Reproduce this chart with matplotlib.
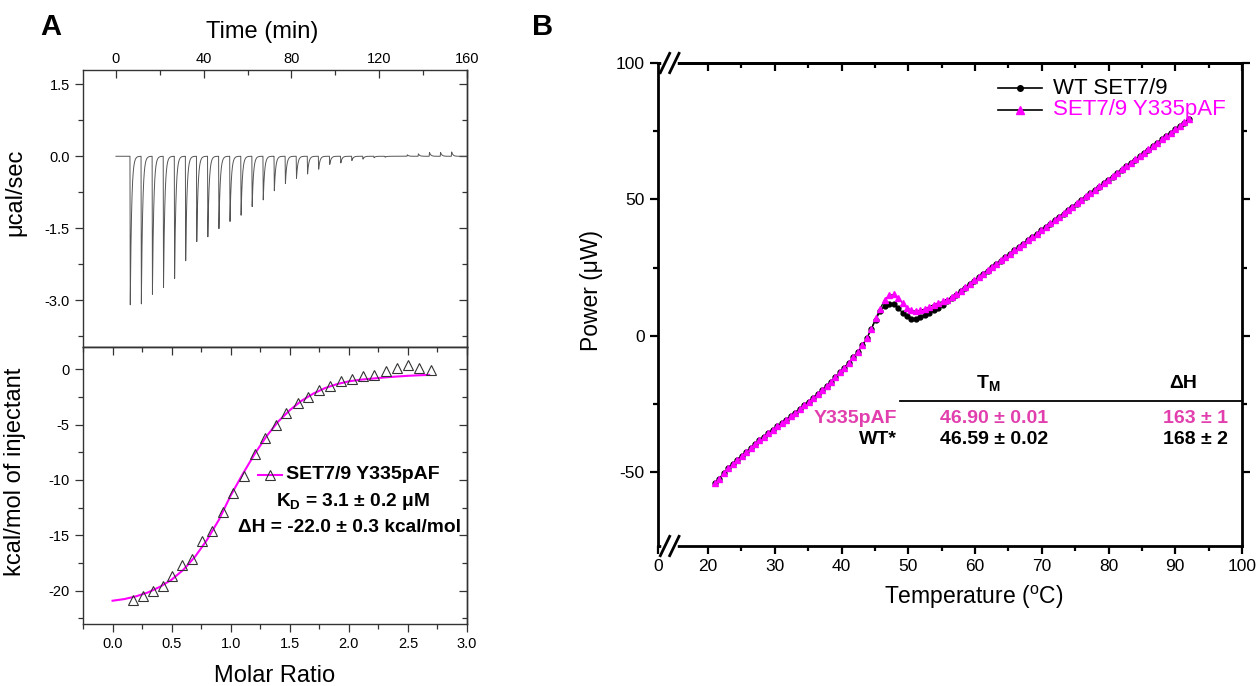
import numpy as np
import matplotlib
matplotlib.use('Agg')
import matplotlib.pyplot as plt
from matplotlib.ticker import MultipleLocator, FixedLocator

plt.rcParams['font.family'] = ['Liberation Sans', 'DejaVu Sans']
plt.rcParams['mathtext.fontset'] = 'custom'
plt.rcParams['mathtext.rm'] = 'Liberation Sans'
plt.rcParams['mathtext.bf'] = 'Liberation Sans:bold'
plt.rcParams['mathtext.it'] = 'Liberation Sans:italic'
plt.rcParams['axes.unicode_minus'] = False

MAGENTA = '#ff00ff'
TABLE_PINK = '#e23fae'

# --- A (top): raw ITC thermogram, one peak per injection ---
inj_first = 6.4      # min
inj_interval = 5.05  # min
peak_heights = [-3.10, -3.08, -2.88, -2.74, -2.55, -2.18, -1.78, -1.68, -1.51, -1.36,
                -1.23, -1.05, -0.91, -0.72, -0.57, -0.46, -0.37, -0.27, -0.17, -0.14,
                -0.09, -0.06, -0.03, -0.02, 0.00, 0.03, 0.05, 0.08, 0.08, 0.09]

# --- A (bottom): integrated heats + fit ---
molar_ratio = [0.169, 0.257, 0.340, 0.426, 0.506, 0.586, 0.671, 0.757, 0.846, 0.931,
               1.020, 1.111, 1.203, 1.294, 1.383, 1.471, 1.566, 1.657, 1.749, 1.843,
               1.934, 2.026, 2.120, 2.214, 2.311, 2.406, 2.500, 2.597, 2.694]
heat_per_inj = [-20.8, -20.45, -20.0, -19.55, -18.7, -17.7, -17.1, -15.55, -14.6, -12.9,
                -11.2, -9.6, -7.65, -6.25, -5.0, -4.0, -3.05, -2.5, -1.85, -1.55,
                -1.1, -0.9, -0.65, -0.5, -0.2, 0.1, 0.4, 0.1, -0.05]
fit_ratio = [0.0, 0.1, 0.2, 0.3, 0.4, 0.5, 0.6, 0.7, 0.8, 0.9, 1.0, 1.1, 1.2, 1.3,
             1.4, 1.5, 1.6, 1.7, 1.8, 1.9, 2.0, 2.1, 2.2, 2.3, 2.4, 2.5, 2.6, 2.68]
fit_heat = [-20.9, -20.75, -20.5, -20.15, -19.65, -19.0, -18.1, -16.9, -15.4, -13.6,
            -11.4, -9.5, -7.7, -6.1, -4.75, -3.7, -2.85, -2.2, -1.7, -1.35,
            -1.1, -0.95, -0.85, -0.75, -0.67, -0.6, -0.55, -0.52]

# --- B: DSC scans (21 C onward, one point every 0.67 C) ---
temp_start = 21.0
temp_step = 0.67
wt_power = [-54.0, -52.3, -50.4, -48.5, -46.8, -45.4, -44.0, -42.6, -41.2, -39.8,
            -38.3, -36.9, -35.6, -34.4, -33.2, -32.0, -30.7, -29.4, -28.1, -26.8,
            -25.4, -24.1, -22.7, -21.3, -19.9, -18.4, -16.8, -15.1, -13.4, -11.6,
            -9.8, -7.9, -5.9, -3.5, -0.9, 2.4, 6.0, 9.0, 11.1, 11.8,
            11.6, 10.2, 8.5, 7.2, 6.3, 6.3, 6.9, 7.5, 8.4, 9.4,
            10.4, 11.5, 12.6, 13.8, 15.1, 16.4, 17.7, 19.0, 20.2, 21.4,
            22.7, 23.9, 25.1, 26.4, 27.6, 28.8, 30.0, 31.3, 32.5, 33.7,
            35.0, 36.2, 37.4, 38.7, 39.9, 41.1, 42.4, 43.6, 44.8, 46.1,
            47.3, 48.5, 49.8, 51.0, 52.2, 53.5, 54.7, 55.9, 57.2, 58.4,
            59.6, 60.9, 62.1, 63.3, 64.6, 65.8, 67.0, 68.3, 69.5, 70.7,
            72.0, 73.2, 74.4, 75.7, 76.9, 78.1, 79.3]
paf_power = [-54.0, -52.3, -50.4, -48.5, -46.8, -45.4, -44.0, -42.6, -41.2, -39.8,
             -38.3, -36.9, -35.6, -34.4, -33.2, -32.0, -30.7, -29.4, -28.1, -26.8,
             -25.4, -24.1, -22.7, -21.3, -19.9, -18.4, -16.8, -15.1, -13.4, -11.6,
             -9.8, -7.9, -5.9, -3.5, -0.9, 2.6, 6.5, 10.0, 13.3, 14.8,
             15.2, 14.0, 12.1, 10.2, 9.4, 9.0, 9.4, 9.9, 10.7, 11.5,
             12.1, 12.6, 13.2, 14.1, 15.2, 16.5, 17.8, 19.1, 20.3, 21.5,
             22.8, 24.0, 25.2, 26.5, 27.7, 28.9, 30.1, 31.4, 32.6, 33.8,
             35.1, 36.3, 37.5, 38.8, 40.0, 41.2, 42.5, 43.7, 44.9, 46.2,
             47.4, 48.6, 49.9, 51.1, 52.3, 53.6, 54.8, 56.0, 57.3, 58.5,
             59.7, 61.0, 62.2, 63.4, 64.7, 65.9, 67.1, 68.4, 69.6, 70.8,
             72.1, 73.3, 74.5, 75.8, 77.0, 78.2, 79.4]

W, H = 1258, 686
fig = plt.figure(figsize=(W / 100, H / 100), dpi=100)


def box(x0, y0, x1, y1):
    # pixel box (top-left origin) -> figure fraction rect
    return [x0 / W, 1 - y1 / H, (x1 - x0) / W, (y1 - y0) / H]


axA1 = fig.add_axes(box(83, 70, 467, 347))
axA2 = fig.add_axes(box(83, 347, 467, 624))
axB = fig.add_axes(box(658, 63, 1242, 546))

# ---------------- A top ----------------
t = np.linspace(0, 160, 16001)
trace = np.zeros_like(t)
for i, h in enumerate(peak_heights):
    dt = t - (inj_first + i * inj_interval)
    shape = np.where(dt < 0, 0.0, np.where(dt < 0.15, dt / 0.15, np.exp(-(dt - 0.15) / 0.6)))
    trace += h * shape
axA1.plot(t, trace, color='#555555', lw=0.7)
axA1.set_xlim(-15, 160)
axA1.set_ylim(-3.98, 1.8)
axA1.xaxis.tick_top()
axA1.xaxis.set_label_position('top')
axA1.set_xticks([0, 40, 80, 120, 160])
axA1.xaxis.set_minor_locator(FixedLocator([20, 60, 100, 140]))
axA1.set_yticks([1.5, 0.0, -1.5, -3.0])
axA1.set_yticklabels(['1.5', '0.0', '-1.5', '-3.0'])
axA1.yaxis.set_minor_locator(FixedLocator([0.75, -0.75, -2.25, -3.75]))
axA1.tick_params(axis='x', which='both', direction='in', top=True, bottom=False,
                 labelsize=10.5, pad=3)
axA1.tick_params(axis='y', which='both', direction='out', left=True, right=False, labelsize=10.5)
axA1.set_xlabel('Time (min)', fontsize=17, labelpad=5)
axA1.xaxis.set_label_coords(0.466, 1.115)
axA1.set_ylabel('μcal/sec', fontsize=17)
axA1.yaxis.set_label_coords(-0.148, 0.56)
secA1 = axA1.secondary_yaxis('right')
secA1.set_yticks([1.5, 0.0, -1.5, -3.0])
secA1.yaxis.set_minor_locator(FixedLocator([0.75, -0.75, -2.25, -3.75]))
secA1.tick_params(which='both', direction='in', labelright=False)

# ---------------- A bottom ----------------
axA2.plot(fit_ratio, fit_heat, color=MAGENTA, lw=1.5, zorder=2)
axA2.plot(molar_ratio, heat_per_inj, '^', mfc='none', mec='#333333', ms=7, mew=0.8, zorder=3)
axA2.set_xlim(-0.25, 3.0)
axA2.set_ylim(-23, 2)
axA2.set_xticks(np.arange(0, 3.01, 0.5))
axA2.set_xticklabels(['0.0', '0.5', '1.0', '1.5', '2.0', '2.5', '3.0'])
axA2.xaxis.set_minor_locator(MultipleLocator(0.25))
axA2.set_yticks([-20, -15, -10, -5, 0])
axA2.yaxis.set_minor_locator(MultipleLocator(2.5))
axA2.tick_params(axis='both', which='both', direction='out', labelsize=10.5)
axA2.set_xlabel('Molar Ratio', fontsize=17, labelpad=10)
axA2.set_ylabel('kcal/mol of injectant', fontsize=17)
axA2.yaxis.set_label_coords(-0.148, 0.549)
secA2x = axA2.secondary_xaxis('top')
secA2x.xaxis.set_major_locator(MultipleLocator(0.5))
secA2x.xaxis.set_minor_locator(MultipleLocator(0.25))
secA2x.tick_params(which='both', direction='in', labeltop=False)
secA2y = axA2.secondary_yaxis('right')
secA2y.yaxis.set_major_locator(MultipleLocator(5))
secA2y.yaxis.set_minor_locator(MultipleLocator(2.5))
secA2y.tick_params(which='both', direction='in', labelright=False)

for ax in (axA1, axA2, secA1, secA2x, secA2y):
    for sp in ax.spines.values():
        sp.set_color('#333333')
        sp.set_linewidth(1.0)
    ax.tick_params(which='major', length=6, width=0.9, color='#333333')
    ax.tick_params(which='minor', length=3.5, width=0.9, color='#333333')

# legend + fit values
tA = axA2.transAxes
axA2.plot([0.456, 0.518], [0.538, 0.538], color=MAGENTA, lw=1.5, transform=tA, clip_on=False)
axA2.plot([0.487], [0.538], '^', mfc='none', mec='#333333', ms=7, mew=0.8, transform=tA)
axA2.text(0.529, 0.538, 'SET7/9 Y335pAF', transform=tA, fontsize=14, fontweight='bold',
          ha='left', va='center')
axA2.text(0.703, 0.444, r'K$_\mathbf{D}$ = 3.1 ± 0.2 μM', transform=tA, fontsize=13.8,
          fontweight='bold', ha='center', va='center')
axA2.text(0.693, 0.347, 'ΔH = -22.0 ± 0.3 kcal/mol', transform=tA, fontsize=13.8,
          fontweight='bold', ha='center', va='center')

# ---------------- B ----------------
temps = temp_start + temp_step * np.arange(len(wt_power))
axB.plot(temps, wt_power, '-o', color='black', ms=3.5, lw=1.0, zorder=3)
axB.plot(temps, paf_power, '-^', color='black', mfc=MAGENTA, mec=MAGENTA, ms=5, lw=0.8, zorder=4)
axB.set_xlim(12.5, 100)
axB.set_ylim(-77, 100)
axB.set_xticks([12.5] + list(range(20, 101, 10)))
axB.set_xticklabels(['0'] + [str(v) for v in range(20, 101, 10)])
axB.xaxis.set_minor_locator(FixedLocator(list(range(25, 100, 10))))
axB.set_yticks([-50, 0, 50, 100])
axB.yaxis.set_minor_locator(FixedLocator([-25, 25, 75]))
axB.tick_params(axis='x', which='both', direction='out', labelsize=12.5)
axB.tick_params(axis='y', which='both', direction='out', right=True, labelsize=12.5)
axB.set_xlabel('Temperature ($^\\mathrm{o}$C)', fontsize=16.5, labelpad=8)
axB.xaxis.set_label_coords(0.54, -0.078)
axB.set_ylabel('Power (μW)', fontsize=16.5)
axB.yaxis.set_label_coords(-0.094, 0.53)
secBx = axB.secondary_xaxis('top')
secBx.set_xticks(list(range(20, 101, 10)))
secBx.xaxis.set_minor_locator(FixedLocator(list(range(25, 100, 10))))
secBx.tick_params(which='both', direction='in', labeltop=False)
for ax in (axB, secBx):
    for sp in ax.spines.values():
        sp.set_linewidth(2.0)
    ax.tick_params(which='major', length=6, width=1.6)
    ax.tick_params(which='minor', length=3.5, width=1.6)

# axis-break marks on the x axis
tB = axB.transAxes
for yb in (0.0, 1.0):
    axB.plot([0.011, 0.029], [yb, yb], color='white', lw=4, transform=tB, clip_on=False, zorder=6)
    for xc in (0.012, 0.028):
        axB.plot([xc - 0.008, xc + 0.008], [yb - 0.02, yb + 0.02], color='black', lw=2,
                 transform=tB, clip_on=False, zorder=7)

# legend
axB.plot([0.582, 0.658], [0.948, 0.948], color='black', lw=1.2, transform=tB)
axB.plot([0.620], [0.948], 'o', color='black', ms=4, transform=tB)
axB.text(0.676, 0.948, 'WT SET7/9', transform=tB, fontsize=16, ha='left', va='center')
axB.plot([0.582, 0.658], [0.903, 0.903], color='black', lw=1.2, transform=tB)
axB.plot([0.620], [0.903], '^', color=MAGENTA, ms=5.5, transform=tB)
axB.text(0.676, 0.903, 'SET7/9 Y335pAF', transform=tB, fontsize=16, color=MAGENTA,
         ha='left', va='center')

# Tm / dH table
axB.plot([0.414, 1.0], [0.300, 0.300], color='black', lw=1.3, transform=tB, clip_on=False)
axB.text(0.565, 0.337, r'T$_\mathbf{M}$', transform=tB, fontsize=14, fontweight='bold',
         ha='center', va='center')
axB.text(0.899, 0.337, 'ΔH', transform=tB, fontsize=14, fontweight='bold',
         ha='center', va='center')
rows = [('Y335pAF', '46.90 ± 0.01', '163 ± 1', TABLE_PINK, 0.263),
        ('WT*', '46.59 ± 0.02', '168 ± 2', 'black', 0.2215)]
for name, tm, dh, col, yy in rows:
    axB.text(0.409, yy, name, transform=tB, fontsize=14, fontweight='bold', color=col,
             ha='right', va='center')
    axB.text(0.575, yy, tm, transform=tB, fontsize=14, fontweight='bold', color=col,
             ha='center', va='center')
    axB.text(0.976, yy, dh, transform=tB, fontsize=14, fontweight='bold', color=col,
             ha='right', va='center')

fig.text(51 / W, 1 - 27 / H, 'A', fontsize=21, fontweight='bold', ha='center', va='center')
fig.text(543 / W, 1 - 27 / H, 'B', fontsize=21, fontweight='bold', ha='center', va='center')

fig.savefig('out.png', dpi=100)
